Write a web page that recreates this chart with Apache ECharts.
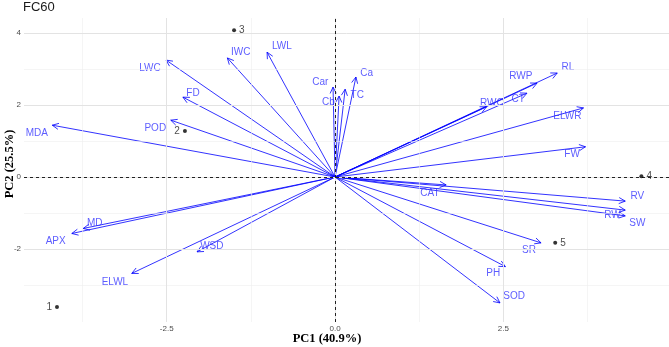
<!DOCTYPE html>
<html>
<head>
<meta charset="utf-8">
<script src="https://cdn.jsdelivr.net/npm/echarts@6/dist/echarts.min.js"></script>
<style>
  html, body { margin: 0; padding: 0; background: #fff; }
  #chart { width: 669px; height: 347px; }
</style>
</head>
<body>
<div id="chart"></div>
<script>
// tick labels and grid positions
const xTicks = [-2.5, 0, 2.5]
const yTicks = [-2, 0, 2, 4]
const xMinor = [-3.75, -1.25, 1.25, 3.75]
const yMinor = [-3, -1, 1, 3]

// variable loadings (arrow tips)
const varNames = ['MDA', 'LWC', 'FD', 'POD', 'IWC', 'LWL', 'Car', 'Cb', 'TC', 'Ca', 'RWP', 'RL', 'RWC', 'CT', 'ELWR', 'FW', 'CAT', 'RV', 'RW', 'SW', 'SR', 'PH', 'SOD', 'MD', 'APX', 'WSD', 'ELWL']
const varPC1 = [-4.20, -2.51, -2.26, -2.44, -1.60, -1.01, -0.03, 0.06, 0.15, 0.31, 3.00, 3.30, 2.25, 2.85, 3.69, 3.72, 1.65, 4.31, 4.31, 4.31, 3.06, 2.53, 2.45, -3.74, -3.91, -2.05, -3.02]
const varPC2 = [1.44, 3.25, 2.22, 1.58, 3.31, 3.47, 2.50, 2.25, 2.44, 2.78, 2.61, 2.89, 1.95, 2.33, 1.92, 0.84, -0.22, -0.67, -0.92, -1.08, -1.83, -2.49, -3.50, -1.43, -1.57, -2.08, -2.68]
// where the (repelled) labels sit, in PC units
const labelPC1 = [-4.43, -2.75, -2.11, -2.67, -1.40, -0.79, -0.22, -0.10, 0.33, 0.47, 2.76, 3.46, 2.33, 2.72, 3.45, 3.52, 1.41, 4.49, 4.12, 4.49, 2.88, 2.35, 2.66, -3.57, -4.15, -1.83, -3.27]
const labelPC2 = [1.22, 3.03, 2.33, 1.36, 3.47, 3.64, 2.64, 2.08, 2.28, 2.89, 2.81, 3.06, 2.06, 2.17, 1.69, 0.64, -0.44, -0.53, -1.06, -1.28, -2.03, -2.67, -3.31, -1.28, -1.78, -1.92, -2.92]

// individual scores
const scoreNames = ['1', '2', '3', '4', '5']
const scorePC1 = [-4.13, -2.23, -1.50, 4.55, 3.27]
const scorePC2 = [-3.61, 1.28, 4.08, 0.02, -1.83]
const scoreSide = ['left', 'left', 'right', 'right', 'right']

const arrowColor = 'rgba(0,0,255,0.8)'
const labelColor = '#3333ff'

let myChart = echarts.init(document.getElementById('chart'))

function renderArrow (params, api) {
  const o = api.coord([0, 0])
  const t = api.coord([api.value(0), api.value(1)])
  const ang = Math.atan2(t[1] - o[1], t[0] - o[0])
  const L = 7
  const a = Math.PI / 7
  const p1 = [t[0] - L * Math.cos(ang - a), t[1] - L * Math.sin(ang - a)]
  const p2 = [t[0] - L * Math.cos(ang + a), t[1] - L * Math.sin(ang + a)]
  return {
    type: 'group',
    children: [
      { type: 'line', shape: { x1: o[0], y1: o[1], x2: t[0], y2: t[1] }, style: { stroke: arrowColor, lineWidth: 1 } },
      { type: 'polyline', shape: { points: [p1, t, p2] }, style: { stroke: arrowColor, fill: null, lineWidth: 1 } }
    ]
  }
}

const gridLine = (c, w) => ({ silent: true, symbol: 'none', label: { show: false }, animation: false, lineStyle: { color: c, width: w, type: 'solid' } })

const options = {
  backgroundColor: '#FFFFFF',
  animation: false,
  grid: { left: 24, right: 0, top: 18, bottom: 25 },
  xAxis: {
    type: 'value',
    min: -4.62,
    max: 4.96,
    splitLine: { show: false },
    axisLine: { show: false },
    axisTick: { show: true, customValues: xTicks, length: 3, lineStyle: { color: '#333' } },
    axisLabel: { customValues: xTicks, formatter: v => v.toFixed(1), color: '#4d4d4d', fontSize: 8, margin: 3, fontFamily: 'Liberation Sans' }
  },
  yAxis: {
    type: 'value',
    min: -4.03,
    max: 4.42,
    splitLine: { show: false },
    axisLine: { show: false },
    axisTick: { show: true, customValues: yTicks, length: 3, lineStyle: { color: '#333' } },
    axisLabel: { customValues: yTicks, formatter: v => String(v), color: '#4d4d4d', fontSize: 8, margin: 3, fontFamily: 'Liberation Sans' }
  },
  graphic: [
    { type: 'text', left: 23, top: 1, style: { text: 'FC60', fontSize: 13, fontFamily: 'Liberation Sans', fill: '#1a1a1a' } },
    { type: 'text', x: 327, y: 339, style: { text: 'PC1 (40.9%)', fontSize: 12.5, fontWeight: 'bold', fontFamily: 'Liberation Serif', fill: '#000', align: 'center', verticalAlign: 'middle' } },
    { type: 'text', x: 10, y: 164, rotation: Math.PI / 2, style: { text: 'PC2 (25.5%)', fontSize: 12.5, fontWeight: 'bold', fontFamily: 'Liberation Serif', fill: '#000', align: 'center', verticalAlign: 'middle' } }
  ],
  series: [
    {
      type: 'line',
      data: [],
      z: 0,
      markLine: Object.assign(gridLine('#eeeeee', 0.6), {
        data: xMinor.map(v => ({ xAxis: v })).concat(yMinor.map(v => ({ yAxis: v })))
      })
    },
    {
      type: 'line',
      data: [],
      z: 1,
      markLine: Object.assign(gridLine('#e3e3e3', 1), {
        data: xTicks.map(v => ({ xAxis: v })).concat(yTicks.map(v => ({ yAxis: v })))
      })
    },
    {
      type: 'line',
      data: [],
      z: 2,
      markLine: {
        silent: true,
        symbol: 'none',
        label: { show: false },
        animation: false,
        lineStyle: { color: '#222', width: 1, type: [3, 3] },
        data: [{ xAxis: 0 }, { yAxis: 0 }]
      }
    },
    {
      type: 'custom',
      z: 3,
      renderItem: renderArrow,
      data: varPC1.map((v, i) => [v, varPC2[i]])
    },
    {
      type: 'scatter',
      z: 4,
      symbolSize: 0,
      data: varNames.map((n, i) => ({ name: n, value: [labelPC1[i], labelPC2[i]] })),
      label: { show: true, position: 'inside', formatter: '{b}', color: labelColor, fontSize: 10, fontFamily: 'Liberation Sans' }
    },
    {
      type: 'scatter',
      z: 5,
      symbolSize: 4,
      itemStyle: { color: '#000' },
      data: scoreNames.map((n, i) => ({
        name: n,
        value: [scorePC1[i], scorePC2[i]],
        label: { position: scoreSide[i] }
      })),
      label: { show: true, formatter: '{b}', color: '#1a1a1a', fontSize: 10, distance: 3, fontFamily: 'Liberation Sans' }
    }
  ]
}
myChart.setOption(options)
</script>
</body>
</html>
